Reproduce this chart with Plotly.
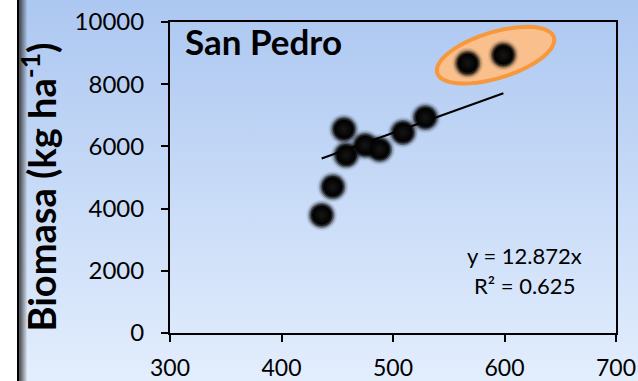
import base64
import numpy as np
import plotly.graph_objects as go

# ---- data ----
x_vals = [436, 446, 456, 458, 475, 488, 509, 529, 567, 599]
y_vals = [3790, 4700, 6550, 5720, 6040, 5900, 6450, 6930, 8670, 8940]
highlight_idx = [8, 9]
slope = 12.872
r2 = 0.625
site = "San Pedro"
x_ticks = [300, 400, 500, 600, 700]
y_ticks = [0, 2000, 4000, 6000, 8000, 10000]

W, H = 638, 381
L, R, T, B = 170, 22, 22, 48
PW, PH = W - L - R, H - T - B
XR, YR = (300, 700), (0, 10000)
ux = (XR[1] - XR[0]) / PW   # data units per px
uy = (YR[1] - YR[0]) / PH

FONT = "Lato"

fig = go.Figure()

# trend line y = slope * x over the data range
xl = np.array([min(x_vals), max(x_vals)], dtype=float)
fig.add_trace(go.Scatter(x=xl, y=slope * xl, mode="lines",
                         line=dict(color="black", width=2), hoverinfo="skip"))

# blurred "sphere" markers: halo layers + core
for size, col in [(31, "rgba(0,0,0,0.08)"), (28, "rgba(0,0,0,0.18)"),
                  (25, "rgba(0,0,0,0.40)"), (22, "rgba(0,0,0,0.65)")]:
    fig.add_trace(go.Scatter(x=x_vals, y=y_vals, mode="markers",
                             marker=dict(size=size, color=col, line=dict(width=0)),
                             hoverinfo="skip"))
fig.add_trace(go.Scatter(x=x_vals, y=y_vals, mode="markers",
                         marker=dict(size=19, color="#000000",
                                     gradient=dict(type="radial", color="#151515"),
                                     line=dict(width=0))))

# orange highlight ellipse around highlighted points
hx = np.mean([x_vals[i] for i in highlight_idx])
hy = np.mean([y_vals[i] for i in highlight_idx])
cx, cy = hx + 10 * ux, hy + 4 * uy
a, b, th = 61.0, 23.0, np.deg2rad(17)
t = np.linspace(0, 2 * np.pi, 73)
u, v = a * np.cos(t), b * np.sin(t)
ex = cx + (u * np.cos(th) - v * np.sin(th)) * ux
ey = cy + (u * np.sin(th) + v * np.cos(th)) * uy
path = "M " + " L ".join(f"{px:.3f},{py:.3f}" for px, py in zip(ex, ey)) + " Z"
fig.add_shape(type="path", path=path, xref="x", yref="y", layer="below",
              fillcolor="#F9C08E", line=dict(color="#F7983C", width=4))

# background (gradient + left panel edge) as an inline SVG image
svg = f"""<svg xmlns='http://www.w3.org/2000/svg' width='{W}' height='{H}' viewBox='0 0 {W} {H}' preserveAspectRatio='none'>
<defs>
<linearGradient id='bg' x1='0' y1='0' x2='0' y2='1'><stop offset='0' stop-color='#ACC7F1'/><stop offset='1' stop-color='#E3EEFD'/></linearGradient>
<linearGradient id='sh' x1='0' y1='0' x2='1' y2='0'><stop offset='0' stop-color='#3a3a3a' stop-opacity='0.9'/><stop offset='1' stop-color='#3a3a3a' stop-opacity='0'/></linearGradient>
</defs>
<rect width='{W}' height='{H}' fill='url(#bg)'/>
<rect width='17' height='{H}' fill='#ffffff'/>
<rect x='17' width='2.5' height='{H}' fill='#000000'/>
<rect x='19.5' width='8' height='{H}' fill='url(#sh)'/>
</svg>"""
src = "data:image/svg+xml;base64," + base64.b64encode(svg.encode()).decode()
fig.add_layout_image(dict(source=src, xref="paper", yref="paper",
                          x=-L / PW, y=1 + T / PH, sizex=W / PW, sizey=H / PH,
                          xanchor="left", yanchor="top", sizing="stretch", layer="below"))

# texts
fig.add_annotation(text=f"<b>{site}</b>", xref="paper", yref="paper", x=0, y=1,
                   xanchor="left", yanchor="middle", xshift=13, yshift=-19,
                   showarrow=False, font=dict(family=FONT, size=35, color="black"))
fig.add_annotation(text="<b>Biomasa (kg ha<sup>-1</sup>)</b>", xref="paper", yref="paper",
                   x=0, y=(H - B - 187.5) / PH, xanchor="center", yanchor="middle", xshift=-131,
                   textangle=-90, showarrow=False, font=dict(family=FONT, size=38, color="black"))
fig.add_annotation(text=f"y = {slope}x", xref="paper", yref="paper",
                   x=(524 - L) / PW, y=(H - B - 255) / PH, xanchor="center", yanchor="middle",
                   showarrow=False, font=dict(family=FONT, size=22, color="black"))
fig.add_annotation(text=f"R² = {r2}", xref="paper", yref="paper",
                   x=(524 - L) / PW, y=(H - B - 285) / PH, xanchor="center", yanchor="middle",
                   showarrow=False, font=dict(family=FONT, size=22, color="black"))

axis_common = dict(showgrid=False, zeroline=False, showline=True, linecolor="black",
                   linewidth=2, mirror=True, ticks="outside", ticklen=7, tickwidth=2,
                   tickcolor="black", automargin=False, tickformat="d")
fig.update_xaxes(range=list(XR), tickvals=x_ticks, ticklabelstandoff=6,
                 tickfont=dict(family=FONT, size=23, color="black"), **axis_common)
fig.update_yaxes(range=list(YR), tickvals=y_ticks, ticklabelstandoff=12,
                 tickfont=dict(family=FONT, size=24, color="black"), **axis_common)

fig.update_layout(template="none", width=W, height=H, margin=dict(l=L, r=R, t=T, b=B),
                  paper_bgcolor="#C8DAF7", plot_bgcolor="rgba(0,0,0,0)",
                  showlegend=False)

fig.write_html("out.html")
